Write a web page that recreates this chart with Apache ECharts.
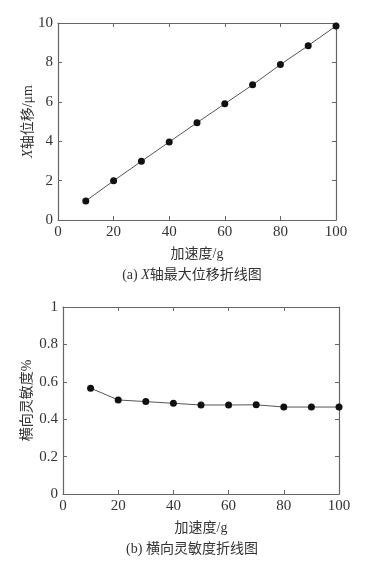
<!DOCTYPE html>
<html><head><meta charset="utf-8">
<script src="https://cdn.jsdelivr.net/npm/echarts@6/dist/echarts.min.js"></script>
<style>html,body{margin:0;padding:0;background:#fff}#c{width:384px;height:573px}</style>
</head><body><div id="c"></div>
<script>
const accel = [10, 20, 30, 40, 50, 60, 70, 80, 90, 100];
const xDisp = [0.97, 1.99, 2.98, 3.96, 4.94, 5.90, 6.86, 7.89, 8.85, 9.85];
const transSens = [0.566, 0.503, 0.494, 0.485, 0.476, 0.476, 0.477, 0.465, 0.465, 0.465];
const xTicksMax = 100, xInterval = 20;
const yTopMax = 10, yTopInterval = 2;
const yBotMax = 1, yBotInterval = 0.2;

const serif = '"Liberation Serif","Noto Sans CJK SC",serif';
const axisCol = '#666';
const txt = '#333';
const FS = 14, LFS = 15;
const chart = echarts.init(document.getElementById('c'));

function xAx(grid, pos, show) {
  return {type:'value', gridIndex:grid, position:pos, min:0, max:xTicksMax, interval:xInterval,
    axisLine:{show:true, onZero:false, lineStyle:{color:axisCol, width:1.2}},
    axisTick:{show:true, inside:true, length:4, lineStyle:{color:axisCol}},
    axisLabel:{show:show, color:txt, fontFamily:serif, fontSize:LFS, margin:5},
    splitLine:{show:false}};
}
function yAx(grid, pos, show, max, interval) {
  return {type:'value', gridIndex:grid, position:pos, min:0, max:max, interval:interval,
    axisLine:{show:true, onZero:false, lineStyle:{color:axisCol, width:1.2}},
    axisTick:{show:true, inside:true, length:4, lineStyle:{color:axisCol}},
    axisLabel:{show:show, color:txt, fontFamily:serif, fontSize:LFS, margin:5},
    splitLine:{show:false}};
}
const nameStyle = {color:txt, fontFamily:serif, fontSize:FS,
  rich:{i:{fontStyle:'italic', fontFamily:serif, fontSize:FS, color:txt}}};
const xAxes = [xAx(0,'bottom',true), xAx(0,'top',false), xAx(1,'bottom',true), xAx(1,'top',false)];
[0,2].forEach(k => Object.assign(xAxes[k], {name:'加速度/g', nameLocation:'middle', nameGap:27,
  nameMoveOverlap:false, nameTextStyle:nameStyle}));
const yAxes = [yAx(0,'left',true,yTopMax,yTopInterval), yAx(0,'right',false,yTopMax,yTopInterval),
  yAx(1,'left',true,yBotMax,yBotInterval), yAx(1,'right',false,yBotMax,yBotInterval)];
Object.assign(yAxes[0], {name:'{i|X}轴位移/μm', nameLocation:'middle', nameGap:23, nameMoveOverlap:false, nameTextStyle:nameStyle});
Object.assign(yAxes[2], {name:'横向灵敏度%', nameLocation:'middle', nameGap:29, nameMoveOverlap:false, nameTextStyle:nameStyle});
yAxes[2].axisLabel.formatter = v => String(+v.toFixed(1));

const lineSeries = (xi, yi, ys) => ({
  type:'line', xAxisIndex:xi, yAxisIndex:yi,
  data: accel.map((x,i)=>[x, ys[i]]),
  symbol:'circle', symbolSize:7, showSymbol:true,
  lineStyle:{color:'#555', width:1},
  itemStyle:{color:'#111'}, animation:false
});

chart.setOption({
  animation:false,
  grid:[{left:58, top:23, width:278, height:197},
        {left:63, top:307, width:276, height:187}],
  xAxis:xAxes, yAxis:yAxes,
  series:[lineSeries(0,0,xDisp), lineSeries(2,2,transSens)],
  graphic:[
    {type:'text', left:'center', top:268, style:{text:'(a) {i|X}轴最大位移折线图', fill:txt, font:FS+'px '+serif,
      rich:{i:{fontStyle:'italic', fontFamily:serif, fontSize:FS, fill:txt}}}},
    {type:'text', left:'center', top:542, style:{text:'(b) 横向灵敏度折线图', fill:txt, font:FS+'px '+serif}}
  ]
});
</script></body></html>
